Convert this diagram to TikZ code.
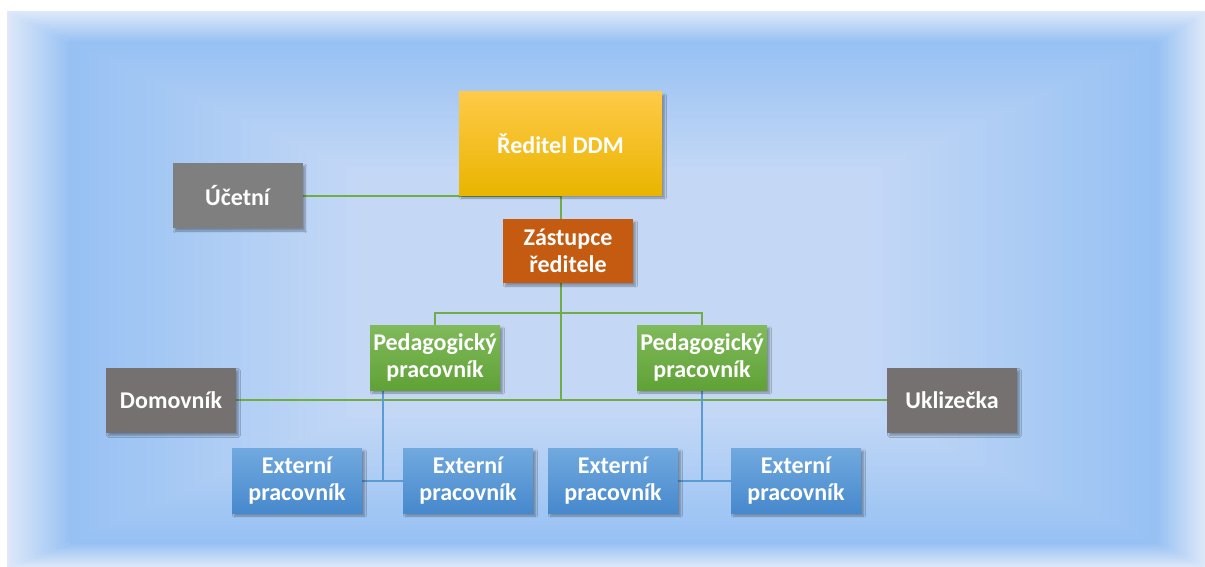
\documentclass[tikz,border=0pt]{standalone}
\usepackage{fontspec}
\setmainfont{Carlito}
\usetikzlibrary{shadows.blur}
\definecolor{edgelight}{HTML}{DEE9F9}
\definecolor{banddark}{HTML}{97C1F3}
\definecolor{centerlight}{HTML}{C4D8F6}
\definecolor{linegreen}{HTML}{70AD47}
\definecolor{lineblue}{HTML}{5B9BD5}
\definecolor{grayA}{HTML}{7F7F7F}
\definecolor{grayB}{HTML}{767171}
\definecolor{orangeZ}{HTML}{C55A11}
\definecolor{yelTop}{HTML}{FFCA48}
\definecolor{yelBot}{HTML}{E9B500}
\definecolor{blueTop}{HTML}{71A9DF}
\definecolor{blueBot}{HTML}{4789CD}
\definecolor{greenTop}{HTML}{80BA5C}
\definecolor{greenBot}{HTML}{60A236}
\pgfdeclarelayer{front}
\pgfsetlayers{main,front}
\tikzset{
  box/.style={draw=none, text=white, align=center, inner sep=0pt,
    minimum width=130pt, minimum height=65pt,
    font=\fontsize{24}{26.5}\selectfont\bfseries,
    blur shadow={shadow xshift=2.5pt, shadow yshift=-3pt, shadow blur steps=6, shadow opacity=35}},
  graybox/.style={box, fill=grayB},
  bluebox/.style={box, top color=blueTop, bottom color=blueBot},
  greenbox/.style={box, top color=greenTop, bottom color=greenBot},
  gline/.style={draw=linegreen, line width=2pt},
  bline/.style={draw=lineblue, line width=2pt},
}
\begin{document}
\begin{tikzpicture}[x=1pt,y=-1pt]
\useasboundingbox (0,0) rectangle (1205,567);
\fill[white] (0,0) rectangle (1205,567);
\shade[top color=edgelight, bottom color=banddark] (7,11) -- (1205,11) -- (1157,42) -- (70,42) -- cycle;
\shade[left color=edgelight, right color=banddark] (7,11) -- (70,42) -- (70,543) -- (7,567) -- cycle;
\shade[left color=banddark, right color=edgelight] (1205,11) -- (1157,42) -- (1157,543) -- (1205,567) -- cycle;
\shade[top color=banddark, bottom color=edgelight] (7,567) -- (70,543) -- (1157,543) -- (1205,567) -- cycle;
\foreach \i in {0,...,30}{
  \pgfmathsetmacro{\p}{100*\i/30}
  \fill[centerlight!\p!banddark] (70+\i*9.5,42+\i*4.3) rectangle (1157-\i*9.5,543-\i*4.3);
}

\begin{pgfonlayer}{front}
\node[box, minimum width=203pt, minimum height=103pt, top color=yelTop, bottom color=yelBot]
  (reditel) at (560.5,143.5) {Ředitel DDM};
\node[box, fill=grayA] (ucetni) at (237.5,195.5) {Účetní};
\node[box, fill=orangeZ, minimum height=64pt] (zastupce) at (568,251) {Zástupce\\ředitele};
\node[greenbox] (pedL) at (435,357.5) {Pedagogický\\pracovník};
\node[greenbox] (pedR) at (702,357.5) {Pedagogický\\pracovník};
\node[graybox] (domovnik) at (171,400) {Domovník};
\node[graybox] (uklizecka) at (952,400) {Uklizečka};
\node[bluebox] (extL1) at (297,480.5) {Externí\\pracovník};
\node[bluebox] (extL2) at (468,480.5) {Externí\\pracovník};
\node[bluebox] (extR1) at (613,480.5) {Externí\\pracovník};
\node[bluebox] (extR2) at (796,480.5) {Externí\\pracovník};
\end{pgfonlayer}

\coordinate (branch) at (560,313);
\coordinate (blueL) at (383,480.5);

\draw[gline] (ucetni.east) -- (ucetni.east -| reditel.south) -- (reditel.south);
\draw[gline] (reditel.south) -- (reditel.south |- zastupce.north);
\draw[gline] (reditel.south |- zastupce.south) -- (reditel.south |- domovnik.east);
\draw[gline] (domovnik.east) -- (uklizecka.west);
\draw[gline] (pedL.north) -- (pedL.north |- branch) -- (pedR.north |- branch) -- (pedR.north);
\draw[bline] (blueL |- pedL.south) -- (blueL);
\draw[bline] (extL1.east) -- (extL2.west);
\draw[bline] (pedR.south) -- (pedR.south |- extR1.east);
\draw[bline] (extR1.east) -- (extR2.west);
\end{tikzpicture}
\end{document}
